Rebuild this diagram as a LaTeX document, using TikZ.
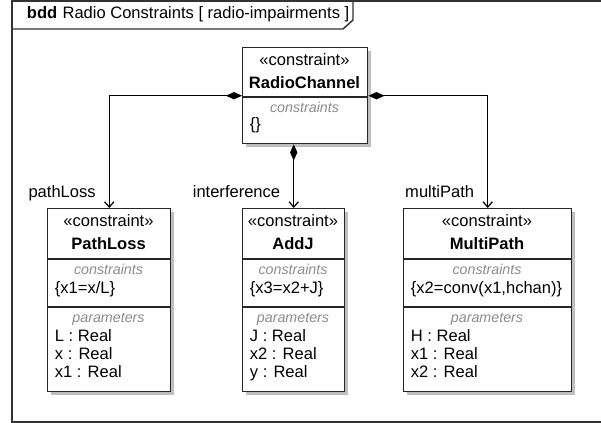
\documentclass[tikz,border=0pt]{standalone}
\usepackage{fontspec}
\setmainfont{Liberation Sans}
\usetikzlibrary{arrows.meta,calc}

\tikzset{every picture/.style={line width=0.75pt}}
\tikzset{
  blockbox/.style={draw=black!85, line width=1.1pt, fill=white, anchor=north west, inner sep=0pt},
  boxshadow/.style={fill=black!25, draw=none},
  divider/.style={draw=black!85, line width=1.1pt},
  stereo/.style={anchor=base, font=\fontsize{12.4}{14}\selectfont},
  blockname/.style={anchor=base, font=\fontsize{12.4}{14}\selectfont\bfseries},
  comptitle/.style={anchor=base, text=black!45, font=\fontsize{10.7}{12}\selectfont\itshape},
  entry/.style={anchor=base west, font=\fontsize{12.4}{14}\selectfont},
  composite/.style={draw=black, line width=0.9pt, {Diamond[length=12pt,width=5.5pt]}-{Straight Barb[length=4pt,width=7pt]}},
  rolelabel/.style={pos=1, anchor=base east, xshift=-6.4pt, yshift=7.5pt, font=\fontsize{12.4}{14}\selectfont}
}

\begin{document}
\begin{tikzpicture}[x=0.75pt,y=0.75pt,yscale=-1,xscale=1]
	\useasboundingbox (0,0) rectangle (601,423);

	%Shape: Frame
	\draw [line width=1.5pt, draw=black!80] (610,1) -- (12,1) -- (12,422) -- (610,422) ;
	%Shape: Frame tab
	\draw [line width=1.1pt, draw=black!80] (12,29) -- (343,29) -- (353,20) -- (353,1) ;
	% Text Node
	\node [anchor=base west, font=\fontsize{12.4}{14}\selectfont] (frametitle) at (22,19) {\textbf{bdd}\hspace{4pt}Radio Constraints [ radio-impairments ]};

	%Shape: shadows
	\fill [boxshadow] (246,51) rectangle (371,147) ;
	\fill [boxshadow] (51,212) rectangle (174,395) ;
	\fill [boxshadow] (246,212) rectangle (348,395) ;
	\fill [boxshadow] (407,212) rectangle (575,395) ;

	%Shape: RadioChannel
	\node [blockbox, minimum width=93.75pt, minimum height=72pt] (rc) at (242,47) {};
	\draw [divider] ($(rc.north west)+(0,50)$) -- ($(rc.north east)+(0,50)$) ;
	\node [stereo] (rc-stereo) at (304.5,66) {«constraint»};
	\node [blockname] (rc-name) at (304.5,89) {RadioChannel};
	\node [comptitle] (rc-cons) at (304.5,113) {constraints};
	\node [entry] (rc-body) at (245,130) {\{\}};

	%Shape: PathLoss
	\node [blockbox, minimum width=92.25pt, minimum height=137.25pt] (pl) at (47,208) {};
	\draw [divider] ($(pl.north west)+(0,51)$) -- ($(pl.north east)+(0,51)$) ;
	\draw [divider] ($(pl.north west)+(0,99)$) -- ($(pl.north east)+(0,99)$) ;
	\node [stereo] (pl-stereo) at (108.5,227) {«constraint»};
	\node [blockname] (pl-name) at (108.5,250) {PathLoss};
	\node [comptitle] (pl-cons) at (108.5,275) {constraints};
	\node [entry] (pl-body) at (50,294) {\{x1=x/L\}};
	\node [comptitle] (pl-par) at (108.5,323) {parameters};
	\node [entry] (pl-p1) at (50,342) {L : Real};
	\node [entry] (pl-p2) at (50,360) {x : Real};
	\node [entry] (pl-p3) at (50,378) {x1 : Real};

	%Shape: AddJ
	\node [blockbox, minimum width=76.5pt, minimum height=137.25pt] (aj) at (242,208) {};
	\draw [divider] ($(aj.north west)+(0,51)$) -- ($(aj.north east)+(0,51)$) ;
	\draw [divider] ($(aj.north west)+(0,99)$) -- ($(aj.north east)+(0,99)$) ;
	\node [stereo] (aj-stereo) at (293,227) {«constraint»};
	\node [blockname] (aj-name) at (293,250) {AddJ};
	\node [comptitle] (aj-cons) at (293,275) {constraints};
	\node [entry] (aj-body) at (245,294) {\{x3=x2+J\}};
	\node [comptitle] (aj-par) at (293,323) {parameters};
	\node [entry] (aj-p1) at (245,342) {J : Real};
	\node [entry] (aj-p2) at (245,360) {x2 : Real};
	\node [entry] (aj-p3) at (245,378) {y : Real};

	%Shape: MultiPath
	\node [blockbox, minimum width=126pt, minimum height=137.25pt] (mp) at (403,208) {};
	\draw [divider] ($(mp.north west)+(0,51)$) -- ($(mp.north east)+(0,51)$) ;
	\draw [divider] ($(mp.north west)+(0,99)$) -- ($(mp.north east)+(0,99)$) ;
	\node [stereo] (mp-stereo) at (487,227) {«constraint»};
	\node [blockname] (mp-name) at (487,250) {MultiPath};
	\node [comptitle] (mp-cons) at (487,275) {constraints};
	\node [entry] (mp-body) at (406,294) {\{x2=conv(x1,hchan)\}};
	\node [comptitle] (mp-par) at (487,323) {parameters};
	\node [entry] (mp-p1) at (406,342) {H : Real};
	\node [entry] (mp-p2) at (406,360) {x1 : Real};
	\node [entry] (mp-p3) at (406,378) {x2 : Real};

	% Connectors
	\draw [composite] (rc.west) -| (pl.north) node [rolelabel] {pathLoss};
	\draw [composite] (aj.north |- rc.south) -- (aj.north) node [rolelabel] {interference};
	\draw [composite] (rc.east) -| (mp.north) node [rolelabel] {multiPath};

\end{tikzpicture}
\end{document}
